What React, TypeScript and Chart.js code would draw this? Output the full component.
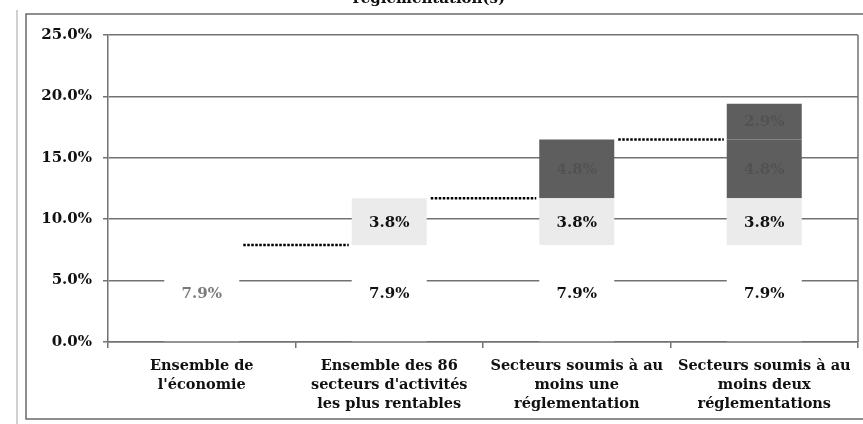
import React, { useEffect, useRef } from 'react';
import { Chart, registerables } from 'chart.js';

Chart.register(...registerables);

const titleText = 'réglementation(s)';
const categories = [
  ['Ensemble de', "l'économie"],
  ['Ensemble des 86', "secteurs d'activités", 'les plus rentables'],
  ['Secteurs soumis à au', 'moins une', 'réglementation'],
  ['Secteurs soumis à au', 'moins deux', 'réglementations'],
];
const baseValues = [7.9, 7.9, 7.9, 7.9];
const rentValues = [null, 3.8, 3.8, 3.8];
const reg1Values = [null, null, 4.8, 4.8];
const reg2Values = [null, null, null, 2.9];
const yTickMin = 0;
const yTickMax = 25;
const yTickStep = 5;

const FONT = "'DejaVu Serif', 'Liberation Serif', serif";
const GRID = '#727272';

const valueLabelPlugin = {
  id: 'valueLabels',
  afterDatasetsDraw(chart: any) {
    const ctx = chart.ctx;
    ctx.save();
    ctx.font = `bold 15px ${FONT}`;
    ctx.textAlign = 'center';
    ctx.textBaseline = 'middle';
    chart.data.datasets.forEach((ds: any, di: number) => {
      const meta = chart.getDatasetMeta(di);
      meta.data.forEach((el: any, i: number) => {
        const v = ds.data[i];
        if (v == null) return;
        const p = el.getProps(['x', 'y', 'base'], true);
        const colors = ds.labelColors;
        ctx.fillStyle = Array.isArray(colors) ? colors[i] : colors;
        ctx.fillText(v.toFixed(1) + '%', p.x, (p.y + p.base) / 2 + 1);
      });
    });
    ctx.restore();
  },
};

const connectorPlugin = {
  id: 'connectors',
  afterDatasetsDraw(chart: any) {
    const ctx = chart.ctx;
    const n = chart.data.labels.length;
    const topEl = (i: number) => {
      let el: any = null;
      chart.data.datasets.forEach((ds: any, di: number) => {
        if (ds.data[i] != null) el = chart.getDatasetMeta(di).data[i];
      });
      return el;
    };
    ctx.save();
    ctx.strokeStyle = '#000';
    ctx.lineWidth = 2.5;
    ctx.setLineDash([2.5, 1.5]);
    for (let i = 0; i < n - 1; i++) {
      const a = topEl(i);
      const b = topEl(i + 1);
      if (!a || !b) continue;
      const pa = a.getProps(['x', 'y', 'width'], true);
      const pb = b.getProps(['x', 'y', 'width'], true);
      ctx.beginPath();
      ctx.moveTo(pa.x + pa.width / 2 + 4, pa.y);
      ctx.lineTo(pb.x - pb.width / 2 - 3, pa.y);
      ctx.stroke();
    }
    ctx.restore();
  },
};

const framePlugin = {
  id: 'frame',
  afterDraw(chart: any) {
    const ctx = chart.ctx;
    const a = chart.chartArea;
    ctx.save();
    ctx.strokeStyle = GRID;
    ctx.lineWidth = 1.5;
    ctx.beginPath();
    ctx.moveTo(a.right, a.top);
    ctx.lineTo(a.right, a.bottom);
    ctx.stroke();
    ctx.strokeStyle = '#6a6a6a';
    ctx.lineWidth = 1.5;
    ctx.beginPath();
    ctx.moveTo(chart.width + 5, 34);
    ctx.lineTo(26, 34);
    ctx.lineTo(26, 439);
    ctx.lineTo(chart.width + 5, 439);
    ctx.stroke();
    ctx.strokeStyle = '#d0d0d0';
    ctx.lineWidth = 2;
    ctx.beginPath();
    ctx.moveTo(17, 30);
    ctx.lineTo(17, chart.height);
    ctx.stroke();
    ctx.restore();
  },
};

export default function App() {
  const ref = useRef<HTMLCanvasElement>(null);
  useEffect(() => {
    document.body.style.overflow = 'hidden';
    const canvas = ref.current;
    if (!canvas) return;
    const chart = new Chart(canvas, {
      type: 'bar',
      data: {
        labels: categories as any,
        datasets: [
          {
            label: 'base',
            data: baseValues,
            backgroundColor: '#ffffff',
            labelColors: ['#7a7a7a', '#111', '#111', '#111'],
          } as any,
          {
            label: 'rent',
            data: rentValues,
            backgroundColor: '#ebebeb',
            labelColors: '#111',
          } as any,
          {
            label: 'reg1',
            data: reg1Values,
            backgroundColor: '#5e5e5e',
            labelColors: '#525252',
          } as any,
          {
            label: 'reg2',
            data: reg2Values,
            backgroundColor: '#5e5e5e',
            labelColors: '#525252',
          } as any,
        ],
      },
      options: {
        responsive: false,
        animation: false,
        layout: { padding: { left: 0, right: 5, top: 0, bottom: 0 } },
        datasets: { bar: { barPercentage: 0.4, categoryPercentage: 1 } },
        plugins: {
          legend: { display: false },
          tooltip: { enabled: false },
          title: {
            display: true,
            text: titleText,
            color: '#111',
            font: { family: FONT, size: 15, weight: 'bold', lineHeight: 1.2 },
            padding: { top: 10, bottom: 27 },
          },
        },
        scales: {
          x: {
            stacked: true,
            grid: {
              display: true,
              drawOnChartArea: false,
              drawTicks: true,
              tickLength: 6,
              offset: true,
              color: GRID,
              lineWidth: 1.5,
            },
            border: { display: true, color: GRID, width: 1.5 },
            ticks: {
              color: '#111',
              padding: 9,
              maxRotation: 0,
              autoSkip: false,
              font: { family: FONT, size: 14.5, weight: 'bold', lineHeight: 1.31 },
            },
            afterFit(scale: any) {
              scale.height = 82;
            },
          },
          y: {
            stacked: true,
            min: yTickMin,
            max: yTickMax,
            grid: { color: GRID, lineWidth: 1.5, tickLength: 5, drawTicks: true },
            border: { display: true, color: GRID, width: 1.5 },
            ticks: {
              stepSize: yTickStep,
              color: '#111',
              padding: 11,
              font: { family: FONT, size: 15, weight: 'bold' },
              callback: (v: any) => Number(v).toFixed(1) + '%',
            },
            afterFit(scale: any) {
              scale.width = 108;
            },
          },
        },
      } as any,
      plugins: [valueLabelPlugin, connectorPlugin, framePlugin],
    });
    return () => chart.destroy();
  }, []);
  return (
    <div style={{ position: 'absolute', left: 0, top: -20, width: 863, height: 444, background: '#fff' }}>
      <canvas ref={ref} width={863} height={444} style={{ display: 'block', width: 863, height: 444 }} />
    </div>
  );
}
